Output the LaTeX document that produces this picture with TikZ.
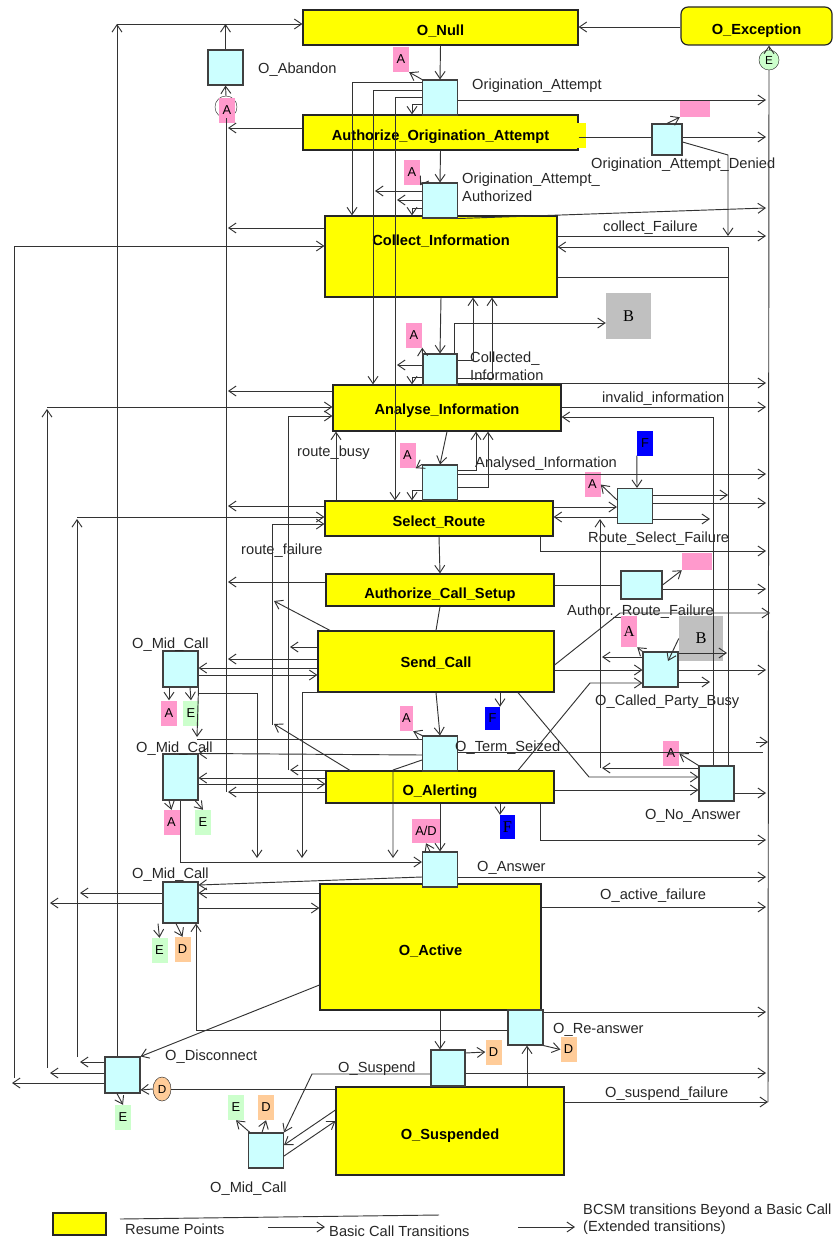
\documentclass[tikz,border=0pt]{standalone}
\usepackage{fontspec}
\setmainfont{Liberation Sans}
\newfontfamily\serifB{Liberation Serif}
\usetikzlibrary{arrows.meta,shapes.geometric}
\definecolor{picyellow}{HTML}{FFFF00}
\definecolor{dpcyan}{HTML}{CCFFFF}
\definecolor{tagpink}{HTML}{FF99CC}
\definecolor{taggreen}{HTML}{CCFFCC}
\definecolor{tagorange}{HTML}{FFCC99}
\definecolor{tagblue}{HTML}{0000FF}
\definecolor{taggray}{HTML}{C0C0C0}
\definecolor{wire}{HTML}{333333}
\tikzset{
  sz/.style 2 args={minimum width=#1*0.03cm, minimum height=#2*0.03cm},
  picbox/.style={
    draw=black!85,
    fill=picyellow,
    line width=1pt,
    inner sep=0pt,
    text height=0.5cm,
    text depth=0cm,
    font=\fontsize{12.5}{14}\selectfont\bfseries
  },
  dpbox/.style={
    draw=black!75,
    fill=dpcyan,
    line width=0.9pt,
    inner sep=0pt,
    sz={35}{35}
  },
  tagbox/.style={inner sep=0pt, sz={16}{25}, font=\fontsize{11}{12}\selectfont},
  tagA/.style={tagbox, fill=tagpink},
  tagE/.style={tagbox, fill=taggreen},
  tagD/.style={tagbox, fill=tagorange},
  tagF/.style={tagbox, fill=tagblue},
  tagB/.style={inner sep=0pt, fill=taggray, sz={45}{46}, font=\serifB\fontsize{14}{16}\selectfont},
  lbl/.style={anchor=west, inner sep=0pt, text=black!85, font=\fontsize{12.5}{15.3}\selectfont},
  trans/.style={
    draw=wire,
    line width=0.8pt,
    -{Straight Barb[length=2.2mm,width=3mm]}
  },
  wline/.style={draw=wire, line width=0.8pt}
}
\begin{document}
\begin{tikzpicture}[x=0.03cm, y=-0.03cm]
\useasboundingbox (0,0) rectangle (835,1238);

% points in call
\node[picbox, sz={275}{35}] (oNull) at (440.5,27.5) {O\_Null};
\node[picbox, sz={151}{38}, rounded corners=6pt] (oExc) at (756.5,26) {O\_Exception};
\node[picbox, sz={275}{35}] (aoa) at (440.5,132.5) {Authorize\_Origination\_Attempt};
\fill[picyellow] (577,123) rectangle (586,148);
\node[picbox, sz={232}{81}, text height=0.35cm, text depth=1.02cm] (ci) at (441,256.5) {Collect\_Information};
\node[picbox, sz={228}{46}, text height=0.4cm] (ai) at (447,408) {Analyse\_Information\hspace{1cm}};
\node[picbox, sz={228}{35}] (sr) at (439,518.5) {Select\_Route};
\node[picbox, sz={228}{32}] (acs) at (440,590) {Authorize\_Call\_Setup};
\node[picbox, sz={236}{61}, text height=0.35cm] (sc) at (436,661.5) {Send\_Call};
\node[picbox, sz={228}{32}] (oal) at (440,787) {O\_Alerting};
\node[picbox, sz={221}{126}] (oac) at (430.5,947) {O\_Active};
\node[picbox, sz={228}{88}] (osu) at (450,1131) {O\_Suspended};

% detection points
\node[dpbox] (dAban) at (225.5,67.5) {};
\node[dpbox] (dOA) at (440,97.5) {};
\node[dpbox, sz={30}{31}] (dOAD) at (667,139.5) {};
\node[dpbox] (dOAA) at (440,200.5) {};
\node[dpbox, sz={34}{31}] (dCI) at (440,369.5) {};
\node[dpbox] (dAI) at (440,482.5) {};
\node[dpbox] (dRSF) at (635,506) {};
\node[dpbox, sz={41}{28}] (dARF) at (641.5,585) {};
\node[dpbox] (dCPB) at (660.5,669.5) {};
\node[dpbox] (dTS) at (440,753.5) {};
\node[dpbox] (dNA) at (716.5,783.5) {};
\node[dpbox] (dAns) at (440,869.5) {};
\node[dpbox] (dRe) at (525.5,1027.5) {};
\node[dpbox, sz={34}{36}] (dSus) at (448,1068) {};
\node[dpbox, sz={35}{36}] (dDis) at (122.5,1075) {};
\node[dpbox, sz={35}{36}] (dMC1) at (180.5,669) {};
\node[dpbox, sz={35}{46}] (dMC2) at (180.5,777) {};
\node[dpbox, sz={35}{41}] (dMC3) at (180.5,902.5) {};
\node[dpbox] (dMC4) at (266,1150.5) {};

% labels
\node[lbl] (lAban) at (258,70) {O\_Abandon};
\node[lbl] (lOA) at (472,86) {Origination\_Attempt};
\node[lbl] (lOAD) at (591,165) {Origination\_Attempt\_Denied};
\node[lbl, align=left] (lOAA) at (462,187) {Origination\_Attempt\_\\Authorized};
\node[lbl] (lCF) at (603,228) {collect\_Failure};
\node[lbl, align=left] (lCI) at (470,366) {Collected\_\\Information};
\node[lbl] (lII) at (602,399) {invalid\_information};
\node[lbl] (lRB) at (297,453) {route\_busy};
\node[lbl] (lAI) at (475,464) {Analysed\_Information};
\node[lbl] (lRSF) at (588,539) {Route\_Select\_Failure};
\node[lbl] (lRF) at (241,551) {route\_failure};
\node[lbl] (lARF) at (567,612) {Author.\_Route\_Failure};
\node[lbl] (lMC1) at (132,645) {O\_Mid\_Call};
\node[lbl] (lCPB) at (595,702) {O\_Called\_Party\_Busy};
\node[lbl] (lMC2) at (136,749) {O\_Mid\_Call};
\node[lbl] (lTS) at (455,748) {O\_Term\_Seized};
\node[lbl] (lNA) at (645,816) {O\_No\_Answer};
\node[lbl] (lMC3) at (132,875) {O\_Mid\_Call};
\node[lbl] (lAns) at (477,868) {O\_Answer};
\node[lbl] (lAF) at (600,896) {O\_active\_failure};
\node[lbl] (lRe) at (553,1030) {O\_Re-answer};
\node[lbl] (lDis) at (165,1057) {O\_Disconnect};
\node[lbl] (lSus) at (338,1069) {O\_Suspend};
\node[lbl] (lSF) at (605,1094) {O\_suspend\_failure};
\node[lbl] (lMC4) at (210,1189) {O\_Mid\_Call};

% markers
\node[circle, draw=black!80, fill=white, minimum size=22*0.03cm, inner sep=0pt] (cA) at (226,107) {};
\node[tagA] (tAb) at (227,110.5) {A};
\node[circle, draw=black!80, fill=taggreen, minimum size=20*0.03cm, inner sep=0pt, font=\fontsize{10}{11}\selectfont] (cE) at (769,60) {E};
\node[ellipse, draw=black!80, fill=tagorange, minimum width=18*0.03cm, minimum height=24*0.03cm, inner sep=0pt, font=\fontsize{10}{11}\selectfont] (cD) at (162,1089) {D};
\node[tagA] (tA1) at (401,59.5) {A};
\node[tagA] (tA2) at (412,172.5) {A};
\node[tagA] (tA3) at (414,335) {A};
\node[tagA] (tA4) at (407.5,455.5) {A};
\node[tagA] (tA5) at (592.5,484.5) {A};
\node[tagA, sz={16}{31}, font=\serifB\fontsize{13}{14}\selectfont] (tA6) at (629,631.5) {A};
\node[tagA, sz={13}{25}] (tA7) at (406.5,718.5) {A};
\node[tagA] (tA8) at (671,753.5) {A};
\node[tagA] (tA9) at (169,713) {A};
\node[tagA] (tA10) at (171.5,822.5) {A};
\node[tagA, sz={28}{24}] (tAD) at (426,831) {A/D};
\node[tagA, sz={30}{16}] (pk1) at (695,109) {};
\node[tagA, sz={30}{17}] (pk2) at (697,561.5) {};
\node[tagE] (tE1) at (191,713) {E};
\node[tagE] (tE2) at (203,822.5) {E};
\node[tagE] (tE3) at (159.5,950.5) {E};
\node[tagE] (tE4) at (123,1117.5) {E};
\node[tagE] (tE5) at (236,1107.5) {E};
\node[tagD] (tD1) at (182.5,949.5) {D};
\node[tagD] (tD2) at (493.5,1052) {D};
\node[tagD] (tD3) at (568.5,1049.5) {D};
\node[tagD] (tD4) at (266,1107.5) {D};
\node[tagF] (fB1) at (645,443) {F};
\node[tagF, sz={15}{23}] (fB2) at (492.5,718.5) {F};
\node[tagF, sz={15}{24}, font=\serifB\fontsize{14}{15}\selectfont] (fB3) at (507.5,827) {F};
\node[tagB] (gB1) at (628.5,316) {B};
\node[tagB, sz={44}{45}] (gB2) at (701,638.5) {B};

% O_Null, O_Exception, O_Abandon
\draw[trans] (oExc.west |- 0,27) -- (oNull.east |- 0,27);
\draw[trans] (dDis.north -| 117,0) -- (117,24);
\draw[trans] (117,24) -- (oNull.west |- 0,24);
\draw[trans] (dAban.north) -- (225.5,24);
\draw[trans] (cA.north) -- (dAban.south);
\draw[wline] (cA.south) -- (226,792);
\draw[wline] (768,1102) -- (cE.south);
\draw[trans] (cE.north) -- (oExc.south -| cE.north);

% Origination_Attempt
\draw[trans] (oNull.south) -- (dOA.north);
\draw[trans] (dOA.north west) -- (tA1.south east);
\draw[trans] (dOA.west |- 0,82) -| (ci.north -| 352,0);
\draw[trans] (dOA.west |- 0,90) -| (ai.north -| 373,0);
\draw[trans] (dOA.west |- 0,97) -| (sr.north -| 395,0);
\draw[trans] (dOA.west |- 0,104) -| (aoa.north -| 412,0);
\draw[trans] (dOA.east |- 0,100) -- (766,100);

% Authorize_Origination_Attempt
\draw[trans] (aoa.west |- 0,128) -- (228,128);
\draw[wline] (aoa.east |- 0,137) -- (dOAD.west |- 0,137);
\draw[trans] (dOAD.east |- 0,137) -- (766,137);
\draw[trans] (dOAD.north) -- (pk1.south west);
\draw[trans] (dOAD.east |- 0,142) -- (728,155) -- (728,236);
\draw[trans] (aoa.south) -- (dOAA.north);
\draw[trans] (dOAA.north west) -- (tA2.south east);
\draw[trans] (dOAA.west |- 0,191) -- (375,191);
\draw[trans] (dOAA.west |- 0,200) -- (397,200);
\draw[trans] (dOAA.west |- 0,208) -| (ci.north -| 412,0);
\draw[trans] (dOAA.south east) -- (766,208);

% Collect_Information
\draw[trans] (ci.west |- 0,228) -- (228,228);
\draw[trans] (14,1078) |- (ci.west |- 0,246);
\draw[trans] (ci.east |- 0,236) -- (766,236);
\draw[trans] (dNA.north -| 728,0) |- (ci.east |- 0,247);
\draw[wline] (ci.east |- 0,277) -- (728,277);
\draw[trans] (ci.south) -- (dCI.north);
\draw[trans] (dCI.north west) -- (tA3.south east);
\draw[trans] (dCI.west |- 0,365) -- (397,365);
\draw[trans] (dCI.west |- 0,377) -| (ai.north -| 412,0);
\draw[trans] (dCI.north -| 454,0) |- (gB1.west |- 0,323);
\draw[trans] (dCI.east |- 0,360) -| (ci.south -| 473,0);
\draw[trans] (dCI.east |- 0,378) -| (ci.south -| 492,0);
\draw[trans] (dCI.east |- 0,383) -- (766,383);

% Analyse_Information
\draw[trans] (ai.west |- 0,391) -- (228,391);
\draw[trans] (47,1068) -- (47,409);
\draw[trans] (47,407) -- (ai.west |- 0,407);
\draw[trans] (sc.west |- 0,647) -- (290,647);
\draw[trans] (oal.west |- 0,770) -- (290,770);
\draw[trans] (288,770) |- (ai.west |- 0,416);
\draw[trans] (ai.east |- 0,407) -- (766,407);
\draw[trans] (dNA.north -| 713,0) |- (ai.east |- 0,417);
\draw[trans] (ai.south) -- (dAI.north);
\draw[trans] (sr.north -| 336,0) -- (ai.south -| 336,0);
\draw[trans] (dAI.north west) -- (tA4.south east);
\draw[trans] (dAI.west |- 0,490) -| (sr.north -| 412,0);
\draw[trans] (dAI.east |- 0,470) -| (ai.south -| 476,0);
\draw[trans] (dAI.east |- 0,487) -| (ai.south -| 488,0);
\draw[trans] (dAI.east |- 0,474) -- (766,474);

% Select_Route
\draw[trans] (sr.west |- 0,506) -- (228,506);
\draw[trans] (77,1057) -- (77,519);
\draw[trans] (77,517) -- (sr.west |- 0,517);
\draw[trans] (272,725) |- (sr.west |- 0,524);
\draw[trans] (sr.east |- 0,507) -- (dRSF.west |- 0,507);
\draw[trans] (dRSF.west |- 0,517) -- (sr.east |- 0,517);
\draw[trans] (sr.south -| 540,0) |- (766,551);
\draw[trans] (sr.south) -- (acs.north);
\draw[trans] (fB1.south west) -- (dRSF.north -| 637,0);
\draw[trans] (dRSF.west |- 0,500) -- (tA5.east);
\draw[trans] (dRSF.east |- 0,495) -- (728,495);
\draw[trans] (dRSF.east |- 0,503) -- (766,503);
\draw[trans] (dRSF.east |- 0,519) -- (710,519);

% Authorize_Call_Setup
\draw[trans] (acs.west |- 0,582) -- (228,582);
\draw[wline] (acs.east |- 0,585) -- (dARF.west);
\draw[trans] (dARF.east |- 0,589) -- (766,589);
\draw[trans] (dARF.east) -- (pk2.south west);
\draw[wline] (acs.south) -- (sc.north);

% Send_Call
\draw[trans] (sc.west |- 0,659) -- (228,659);
\draw[trans] (sc.north -| 330,0) -- (274,601);
\draw[trans] (sc.west |- 0,668) -- (dMC1.east |- 0,668);
\draw[trans] (dMC1.east |- 0,675) -- (sc.west |- 0,675);
\draw[trans] (sc.south -| 330,0) -| (302,858);
\draw[trans] (sc.south) -- (dTS.north);
\draw[trans] (sc.south -| 500,0) -- (fB2.north -| 500,0);
\draw[trans] (sc.east |- 0,670) -- (dCPB.west |- 0,670);
\draw[trans] (sc.east |- 0,665) -- (620,613) -- (770,613);
\draw[trans] (sc.south -| 518,0) -- (589,777) -- (dNA.west |- 0,777);

% O_Mid_Call after Send_Call
\draw[trans] (dMC1.south -| 169,0) -- (tA9.north);
\draw[trans] (dMC1.south -| 190,0) -- (tE1.north);
\draw[trans] (dMC1.south east) -- (197,737);
\draw[trans] (198,693) -| (257,858);
\draw[wline] (197,739) -- (dTS.west |- 0,739);

% O_Term_Seized
\draw[trans] (dTS.north west) -- (tA7.south east);
\draw[trans] (dTS.west |- 0,755) -- (dMC2.north east);
\draw[trans] (dTS.west |- 0,760) -- (393,770) -- (393,858);
\draw[wline] (dTS.east |- 0,752) -- (763,752);
\draw[trans] (756,742) -- (768,742);

% O_Alerting
\draw[trans] (oal.north -| 350,0) -- (274,724);
\draw[trans] (oal.west |- 0,778) -- (dMC2.east |- 0,778);
\draw[trans] (dMC2.east |- 0,784) -- (oal.west |- 0,784);
\draw[trans] (oal.west |- 0,792) -- (228,792);
\draw[trans] (oal.east |- 0,790) -- (dNA.west |- 0,790);
\draw[trans] (oal.north -| 518,0) -- (590,683) -- (dCPB.west |- 0,683);
\draw[trans] (oal.south -| 540,0) |- (766,840);
\draw[trans] (oal.south) -- (dAns.north);
\draw[trans] (oal.south -| 500,0) -- (fB3.north -| 500,0);

% O_Called_Party_Busy, O_No_Answer
\draw[trans] (dCPB.north west) -- (tA6.south east);
\draw[trans] (gB2.west) -- (668,661);
\draw[trans] (dCPB.west |- 0,657) -- (602,657);
\draw[trans] (dCPB.east |- 0,653) -- (727,653);
\draw[trans] (dCPB.east |- 0,670) -- (766,670);
\draw[trans] (dCPB.east |- 0,682) -- (710,682);
\draw[trans] (dNA.north west) -- (tA8.east);
\draw[trans] (dNA.west |- 0,768) -- (602,768);
\draw[trans] (600,768) -- (600,519);
\draw[trans] (dNA.east |- 0,793) -- (766,793);

% O_Mid_Call after O_Alerting, O_Answer
\draw[trans] (dMC2.south -| 169,0) -- (tA10.north);
\draw[trans] (dMC2.south -| 195,0) -- (tE2.north);
\draw[trans] (dMC2.south) |- (dAns.west |- 0,862);
\draw[trans] (dAns.north -| 430,0) -- (tAD.south);
\draw[trans] (dAns.west |- 0,877) -- (dMC3.east |- 0,885);
\draw[trans] (dAns.east |- 0,877) -- (766,877);

% O_Active
\draw[trans] (oac.west |- 0,893) -- (dMC3.east |- 0,893);
\draw[trans] (dMC3.east |- 0,908) -- (oac.west |- 0,908);
\draw[trans] (dMC3.west |- 0,893) -- (80,893);
\draw[trans] (dMC3.west |- 0,903) -- (50,903);
\draw[trans] (dMC3.south -| 158,0) -- (tE3.north);
\draw[trans] (dMC3.south -| 176,0) -- (tD1.north);
\draw[trans] (oac.east |- 0,907) -- (766,907);
\draw[trans] (oac.west |- 0,985) -- (dDis.north east);
\draw[trans] (oac.south -| 440,0) -- (dSus.north -| 440,0);
\draw[trans] (dRe.west |- 0,1030) -| (dMC3.south -| 196,0);
\draw[trans] (dRe.east |- 0,1012) -- (766,1012);
\draw[trans] (dRe.south east) -- (tD3.west);
\draw[trans] (osu.north -| 527,0) -- (dRe.south -| 527,0);

% O_Suspend, O_Suspended
\draw[trans] (dSus.east |- 0,1053) -- (tD2.west);
\draw[trans] (dSus.east |- 0,1073) -- (766,1073);
\draw[trans] (dSus.west |- 0,1074) -- (312,1074) -- (dMC4.north east);
\draw[trans] (osu.west |- 0,1110) -- (dMC4.east |- 0,1145);
\draw[trans] (dMC4.east |- 0,1156) -- (osu.west |- 0,1121);
\draw[trans] (dMC4.north -| 250,0) -- (tE5.south);
\draw[trans] (dMC4.north -| 262,0) -- (tD4.south);
\draw[wline] (osu.west |- 0,1089) -- (cD.east);
\draw[trans] (cD.west) -- (dDis.east |- 0,1090);
\draw[trans] (osu.east |- 0,1102) -- (768,1102);

% O_Disconnect
\draw[trans] (dDis.south -| 117,0) -- (tE4.north);
\draw[trans] (dDis.west |- 0,1062) -- (80,1062);
\draw[trans] (dDis.west |- 0,1073) -- (50,1073);
\draw[trans] (dDis.west |- 0,1083) -- (12,1083);

% legend
\node[picbox, line width=1.2pt, sz={53}{22}] (legRP) at (79.5,1224) {};
\draw[wline] (120,1219) -- (439,1215);
\node[lbl] (lRP) at (125,1229) {Resume Points};
\coordinate (legA1) at (268,1227);
\coordinate (legA2) at (325,1227);
\draw[trans] (legA1) -- (legA2);
\node[lbl] (lBCT) at (329,1231) {Basic Call Transitions};
\coordinate (legB1) at (518,1227);
\coordinate (legB2) at (575,1227);
\draw[trans] (legB1) -- (legB2);
\node[lbl, align=left, font=\fontsize{12.5}{14.5}\selectfont] (lBCSM) at (583,1219) {BCSM transitions Beyond a Basic Call\\ (Extended transitions)};
\end{tikzpicture}
\end{document}
